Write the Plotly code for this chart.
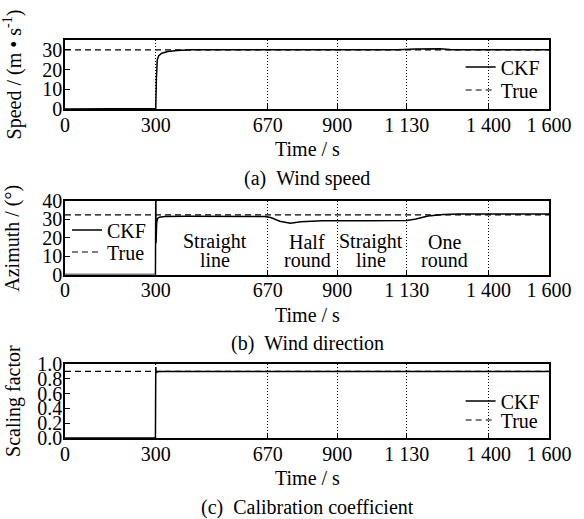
import plotly.graph_objects as go

# ---------------- data ----------------
x_ticks = [0, 300, 670, 900, 1130, 1400, 1600]
x_tick_text = ["0", "300", "670", "900", "1 130", "1 400", "1 600"]

# (a) wind speed
speed_t = [0, 298, 300, 302, 305, 310, 320, 340, 370, 420, 500, 700, 900, 1100, 1160, 1200, 1240, 1280, 1400, 1600]
speed_ckf = [0, 0, 0.3, 15, 25, 27, 28.3, 29.2, 29.7, 30, 30, 29.9, 30, 30.1, 30.4, 30.6, 30.5, 30.1, 30, 30]
speed_true_t = [0, 1600]
speed_true = [30, 30]

# (b) wind direction
azi_t = [0, 299, 300, 300.5, 301, 303, 306, 312, 330, 400, 660, 680, 710, 745, 780, 850, 1000, 1130, 1160, 1200, 1250, 1300, 1600]
azi_ckf = [0, 0, 42, 42, 17, 28, 30.5, 31.2, 31.6, 31.7, 31.6, 31, 29, 27.9, 28.7, 29.2, 29.3, 29.4, 30.2, 31.8, 32.7, 32.9, 32.9]
azi_true_t = [0, 1600]
azi_true = [32.4, 32.4]

# (c) calibration coefficient
scale_t = [0, 299, 300, 300.5, 301, 305, 320, 600, 680, 720, 760, 800, 1600]
scale_ckf = [0, 0, 0.95, 0.95, 0.88, 0.895, 0.9, 0.9, 0.903, 0.907, 0.905, 0.9, 0.9]
scale_true_t = [0, 1600]
scale_true = [0.9, 0.9]

segment_labels = [("Straight", "line", 497), ("Half", "round", 800),
                  ("Straight", "line", 1011), ("One", "round", 1255)]

FONT = "Liberation Serif"
FS = 20
W, H = 584, 519
ML, MR, MT, MB = 65, 26, 40, 81
PH = H - MT - MB
PW = W - ML - MR


def py(pix):
    """pixel y (from top) -> paper y"""
    return (H - MB - pix) / PH


def px(pix):
    return (pix - ML) / PW


dom_a = [py(109), 1.0]
dom_b = [py(274.5), py(201)]
dom_c = [0.0, py(364)]

fig = go.Figure()

solid = dict(color="black", width=1.5)
dashed = dict(color="black", width=1.2, dash="6px,4px")

fig.add_trace(go.Scatter(x=speed_t, y=speed_ckf, mode="lines", line=solid,
                         name="CKF", xaxis="x", yaxis="y", legend="legend"))
fig.add_trace(go.Scatter(x=speed_true_t, y=speed_true, mode="lines", line=dashed,
                         name="True", xaxis="x", yaxis="y", legend="legend2"))
fig.add_trace(go.Scatter(x=azi_t, y=azi_ckf, mode="lines", line=solid,
                         name="CKF", xaxis="x2", yaxis="y2", legend="legend3"))
fig.add_trace(go.Scatter(x=azi_true_t, y=azi_true, mode="lines", line=dashed,
                         name="True", xaxis="x2", yaxis="y2", legend="legend4"))
fig.add_trace(go.Scatter(x=scale_t, y=scale_ckf, mode="lines", line=solid,
                         name="CKF", xaxis="x3", yaxis="y3", legend="legend5"))
fig.add_trace(go.Scatter(x=scale_true_t, y=scale_true, mode="lines", line=dashed,
                         name="True", xaxis="x3", yaxis="y3", legend="legend6"))

xcommon = dict(range=[0, 1600], tickmode="array", tickvals=x_ticks, ticktext=x_tick_text,
               ticks="inside", ticklen=5, tickwidth=1, tickcolor="black",
               showline=True, linecolor="black", linewidth=1.5, mirror=True,
               showgrid=True, gridcolor="black", griddash="1px,2px", gridwidth=1,
               zeroline=False, ticklabelstandoff=-3,
               tickfont=dict(family=FONT, size=FS, color="black"))
ycommon = dict(ticks="inside", ticklen=5, tickwidth=1, tickcolor="black",
               showline=True, linecolor="black", linewidth=1.5, mirror=True,
               showgrid=False, zeroline=False, ticklabelstandoff=-3,
               tickfont=dict(family=FONT, size=FS, color="black"))

fig.update_layout(
    xaxis=dict(domain=[0, 1], anchor="y", **xcommon),
    xaxis2=dict(domain=[0, 1], anchor="y2", **xcommon),
    xaxis3=dict(domain=[0, 1], anchor="y3", **xcommon),
    yaxis=dict(domain=dom_a, anchor="x", range=[0, 35], tickvals=[0, 10, 20, 30], **ycommon),
    yaxis2=dict(domain=dom_b, anchor="x2", range=[0, 40], tickvals=[0, 10, 20, 30, 40], **ycommon),
    yaxis3=dict(domain=dom_c, anchor="x3", range=[0, 1.0], tickvals=[0, 0.2, 0.4, 0.6, 0.8, 1.0],
                tickformat=".1f", **ycommon),
)

leg = dict(bgcolor="rgba(0,0,0,0)", borderwidth=0, font=dict(family=FONT, size=FS, color="black"),
           xanchor="left", yanchor="middle", xref="paper", yref="paper", visible=True)
fig.update_layout(
    showlegend=True,
    legend=dict(x=px(468), y=py(67), **leg),
    legend2=dict(x=px(468), y=py(90), **leg),
    legend3=dict(x=px(67), y=py(230), **leg),
    legend4=dict(x=px(67), y=py(252), **leg),
    legend5=dict(x=px(468), y=py(401), **leg),
    legend6=dict(x=px(468), y=py(420), **leg),
)

annotations = []
ytitles = ["Speed / (m • s<sup>-1</sup>)", "Azimuth / (°)", "Scaling factor"]
doms = [dom_a, dom_b, dom_c]
captions = ["(a)\u00a0\u00a0Wind speed", "(b)\u00a0\u00a0Wind direction", "(c)\u00a0\u00a0Calibration coefficient"]
tfont = dict(family=FONT, size=FS, color="black")
for title, dom, cap in zip(ytitles, doms, captions):
    annotations.append(dict(text=title, textangle=-90, xref="paper", yref="paper",
                            x=px(12), y=(dom[0] + dom[1]) / 2, xanchor="center", yanchor="middle",
                            showarrow=False, font=tfont))
    annotations.append(dict(text="Time / s", xref="paper", yref="paper", x=0.5, y=dom[0],
                            xanchor="center", yanchor="middle", yshift=-40, showarrow=False, font=tfont))
    annotations.append(dict(text=cap, xref="paper", yref="paper", x=0.5, y=dom[0],
                            xanchor="center", yanchor="middle", yshift=-69, showarrow=False, font=tfont))

for top, bottom, t in segment_labels:
    annotations.append(dict(text=top, xref="x2", yref="y2", x=t, y=17.8, showarrow=False,
                            xanchor="center", yanchor="middle", font=tfont))
    annotations.append(dict(text=bottom, xref="x2", yref="y2", x=t, y=7.9, showarrow=False,
                            xanchor="center", yanchor="middle", font=tfont))

fig.update_layout(
    annotations=annotations,
    width=W, height=H,
    margin=dict(l=ML, r=MR, t=MT, b=MB),
    paper_bgcolor="white", plot_bgcolor="white",
    font=dict(family=FONT, size=FS, color="black"),
)

fig.write_html("out.html", config={"displayModeBar": False},
               post_script="document.body.style.margin='0px';")
